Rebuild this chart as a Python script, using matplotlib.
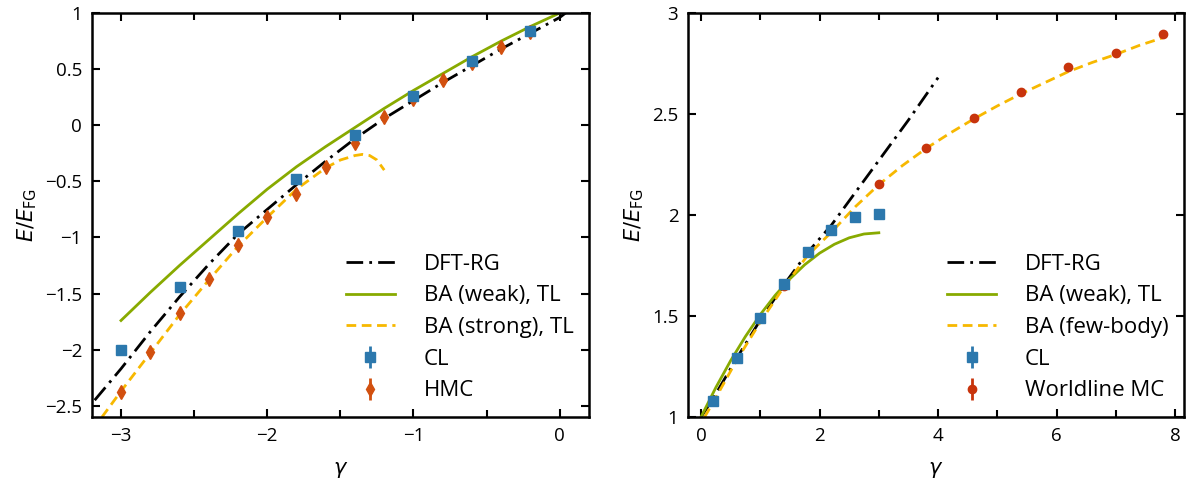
import matplotlib
matplotlib.use('Agg')
import matplotlib.pyplot as plt
from matplotlib.ticker import MultipleLocator, FuncFormatter

plt.rcParams['font.family'] = ['Open Sans', 'DejaVu Sans']
plt.rcParams['mathtext.fontset'] = 'dejavusans'
plt.rcParams['font.size'] = 13.5
plt.rcParams['axes.unicode_minus'] = True

# ---- left panel (attractive) ----
g_dft_l = [-3.18, -3.0, -2.8, -2.6, -2.4, -2.2, -2.0, -1.8, -1.6, -1.4, -1.2, -1.0, -0.8, -0.6, -0.4, -0.2, 0.0, 0.04]
E_dft_l = [-2.45, -2.17, -1.84, -1.53, -1.24, -0.97, -0.75, -0.53, -0.32, -0.12, 0.06, 0.22, 0.38, 0.53, 0.68, 0.82, 0.96, 1.0]

g_weak_l = [-3.0, -2.8, -2.6, -2.4, -2.2, -2.0, -1.8, -1.6, -1.4, -1.2, -1.0, -0.8, -0.6, -0.4, -0.2, 0.0]
E_weak_l = [-1.74, -1.49, -1.25, -1.02, -0.79, -0.57, -0.37, -0.19, -0.02, 0.15, 0.31, 0.46, 0.61, 0.75, 0.88, 1.0]

g_strong_l = [-3.13, -3.0, -2.8, -2.6, -2.4, -2.2, -2.0, -1.8, -1.6, -1.5, -1.4, -1.35, -1.3, -1.25, -1.2]
E_strong_l = [-2.6, -2.37, -2.03, -1.69, -1.38, -1.08, -0.82, -0.57, -0.38, -0.31, -0.27, -0.26, -0.27, -0.31, -0.40]

g_cl_l = [-3.0, -2.6, -2.2, -1.8, -1.4, -1.0, -0.6, -0.2]
E_cl_l = [-2.0, -1.44, -0.94, -0.48, -0.09, 0.26, 0.57, 0.84]
err_cl_l = [0.01, 0.01, 0.01, 0.01, 0.01, 0.01, 0.01, 0.01]

g_hmc = [-3.0, -2.8, -2.6, -2.4, -2.2, -2.0, -1.8, -1.6, -1.4, -1.2, -1.0, -0.8, -0.6, -0.4, -0.2]
E_hmc = [-2.38, -2.02, -1.67, -1.37, -1.07, -0.82, -0.61, -0.37, -0.16, 0.07, 0.23, 0.40, 0.55, 0.70, 0.83]
err_hmc = [0.04, 0.04, 0.04, 0.04, 0.04, 0.04, 0.04, 0.04, 0.04, 0.03, 0.03, 0.03, 0.03, 0.03, 0.03]

# ---- right panel (repulsive) ----
g_dft_r = [0.0, 0.2, 0.6, 1.0, 1.4, 1.8, 2.2, 2.6, 3.0, 3.5, 4.0]
E_dft_r = [1.0, 1.09, 1.29, 1.48, 1.655, 1.815, 1.95, 2.11, 2.27, 2.47, 2.68]

g_weak_r = [0.0, 0.25, 0.5, 0.75, 1.0, 1.25, 1.5, 1.75, 2.0, 2.25, 2.5, 2.75, 3.0]
E_weak_r = [1.0, 1.146, 1.279, 1.399, 1.507, 1.602, 1.684, 1.754, 1.811, 1.855, 1.887, 1.906, 1.912]

g_few = [0.06, 0.2, 0.6, 1.0, 1.4, 1.8, 2.2, 2.6, 3.0, 3.4, 3.8, 4.2, 4.6, 5.0, 5.4, 5.8, 6.2, 6.6, 7.0, 7.4, 7.8]
E_few = [1.0, 1.07, 1.28, 1.47, 1.645, 1.80, 1.915, 2.04, 2.15, 2.245, 2.33, 2.405, 2.475, 2.54, 2.60, 2.655, 2.71, 2.755, 2.795, 2.84, 2.878]

g_cl_r = [0.2, 0.6, 1.0, 1.4, 1.8, 2.2, 2.6, 3.0]
E_cl_r = [1.077, 1.293, 1.488, 1.66, 1.818, 1.925, 1.99, 2.003]
err_cl_r = [0.01, 0.01, 0.01, 0.01, 0.01, 0.01, 0.01, 0.01]

g_wl = [1.4, 3.0, 3.8, 4.6, 5.4, 6.2, 7.0, 7.8]
E_wl = [1.65, 2.155, 2.334, 2.482, 2.608, 2.732, 2.80, 2.898]
err_wl = [0.005, 0.005, 0.005, 0.005, 0.005, 0.005, 0.005, 0.005]

c_blue = '#2c78ad'
c_orange = '#d2500f'
c_red = '#c8340c'
c_green = '#88aa00'
c_yellow = '#f7b800'
dashdot = (6, 2.2, 1, 2.2)
dashed = (3.5, 2)


def fmt(v, pos):
    s = '%g' % v
    return s.replace('-', '\u2212')


fig = plt.figure(figsize=(11.87, 4.79), dpi=100)
ax1 = fig.add_axes([0.0773, 0.1294, 0.4189, 0.8435])
ax2 = fig.add_axes([0.5796, 0.1294, 0.4179, 0.8435])

# left
ax1.plot(g_dft_l, E_dft_l, color='black', lw=2, dashes=dashdot, label='DFT-RG')
ax1.plot(g_weak_l, E_weak_l, color=c_green, lw=2, label='BA (weak), TL')
ax1.plot(g_strong_l, E_strong_l, color=c_yellow, lw=2, dashes=dashed, label='BA (strong), TL')
ax1.errorbar(g_cl_l, E_cl_l, yerr=err_cl_l, fmt='s', color=c_blue, ms=6.5, elinewidth=2,
             label='CL', zorder=5)
ax1.errorbar(g_hmc, E_hmc, yerr=err_hmc, fmt='d', color=c_orange, ms=7, elinewidth=2,
             label='HMC', zorder=4)
ax1.set_xlim(-3.2, 0.2)
ax1.set_ylim(-2.6, 1.0)
ax1.xaxis.set_major_locator(MultipleLocator(1))
ax1.xaxis.set_minor_locator(MultipleLocator(0.5))
ax1.yaxis.set_major_locator(MultipleLocator(0.5))

# right
ax2.plot(g_dft_r, E_dft_r, color='black', lw=2, dashes=dashdot, label='DFT-RG')
ax2.plot(g_weak_r, E_weak_r, color=c_green, lw=2, label='BA (weak), TL')
ax2.plot(g_few, E_few, color=c_yellow, lw=2, dashes=dashed, label='BA (few-body)')
ax2.errorbar(g_cl_r, E_cl_r, yerr=err_cl_r, fmt='s', color=c_blue, ms=6.5, elinewidth=2,
             label='CL', zorder=5)
ax2.errorbar(g_wl, E_wl, yerr=err_wl, fmt='o', color=c_red, ms=6, elinewidth=2,
             label='Worldline MC', zorder=4)
ax2.set_xlim(-0.22, 8.15)
ax2.set_ylim(1.0, 3.0)
ax2.xaxis.set_major_locator(MultipleLocator(2))
ax2.xaxis.set_minor_locator(MultipleLocator(1))
ax2.yaxis.set_major_locator(MultipleLocator(0.5))

for ax in (ax1, ax2):
    ax.tick_params(which='both', direction='in', top=True, right=True, width=1.5)
    ax.tick_params(which='major', length=6, pad=7)
    ax.tick_params(which='minor', length=5)
    ax.xaxis.set_major_formatter(FuncFormatter(fmt))
    ax.yaxis.set_major_formatter(FuncFormatter(fmt))
    for s in ax.spines.values():
        s.set_linewidth(1.8)
    ax.set_xlabel(r'$\gamma$', labelpad=10, fontsize=15)
    ax.set_ylabel(r'$E/E_{\mathrm{FG}}$', labelpad=4, fontsize=15)
    ax.legend(loc='lower right', frameon=False, handlelength=2.2, handletextpad=1.3,
              labelspacing=0.48, borderaxespad=0.3, fontsize=16)

fig.savefig('out.png', dpi=100)
